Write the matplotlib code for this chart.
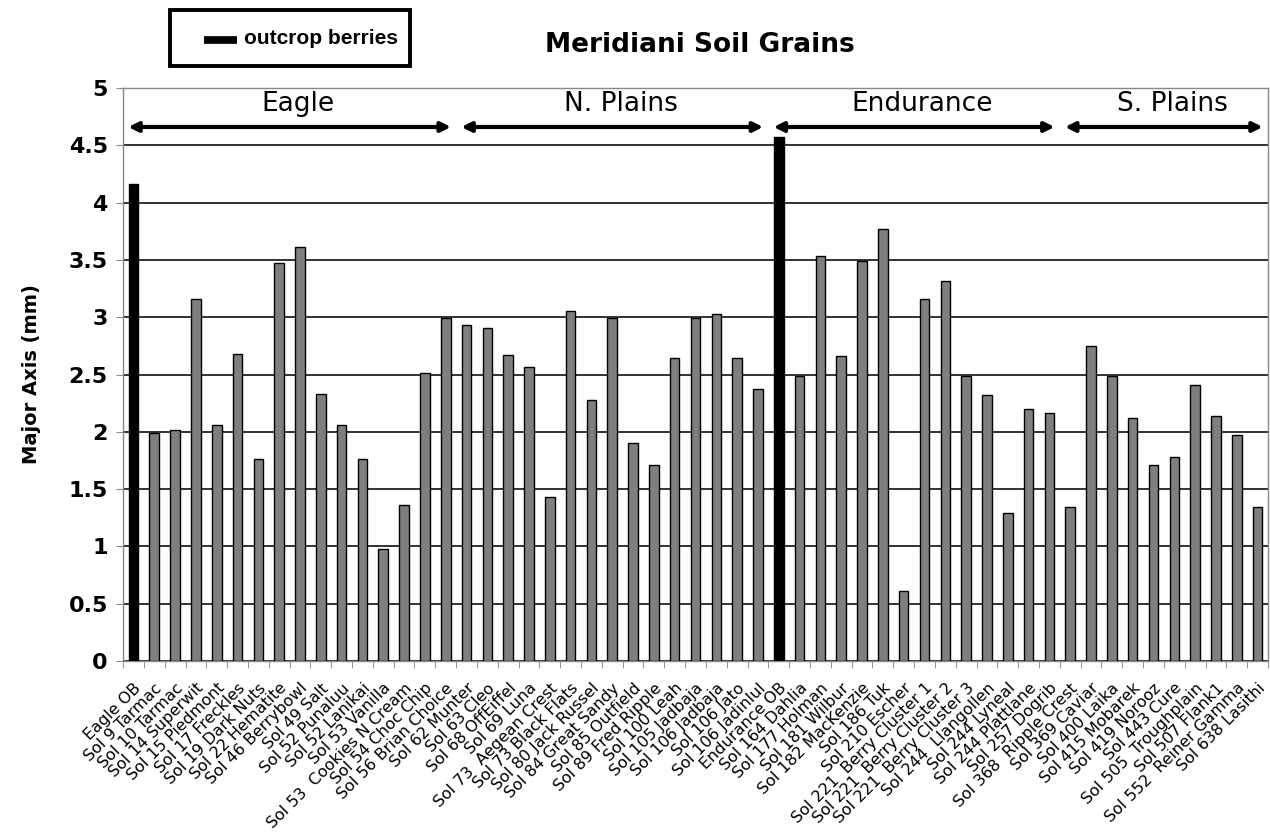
import matplotlib
matplotlib.use('Agg')
from matplotlib import pyplot as plt
from matplotlib.lines import Line2D
from matplotlib.patches import Rectangle
import numpy as np

# grain names, in the order they were sampled along the traverse
names = ['Eagle OB', 'Sol 9 Tarmac', 'Sol 10 Tarmac', 'Sol 14 Superwit', 'Sol 15 Piedmont',
         'Sol 17 Freckles', 'Sol 19 Dark Nuts', 'Sol 22 Hematite', 'Sol 46 Berrybowl', 'Sol 49 Salt',
         'Sol 52 Punaluu', 'Sol 52 Lanikai', 'Sol 53 Vanilla', 'Sol 53  Cookies N Cream', 'Sol 54 Choc Chip',
         'Sol 56 Brian Choice', 'Sol 62 Munter', 'Sol 63 Cleo', 'Sol 68 OffEiffel', 'Sol 69 Luna',
         'Sol 73  Aegean Crest', 'Sol 73 Black Flats', 'Sol 80 Jack Russel', 'Sol 84 Great Sandy',
         'Sol 85 Outfield', 'Sol 89 Fred Ripple', 'Sol 100 Leah', 'Sol 105 Jadbaja', 'Sol 106 Jadbaja',
         'Sol 106 Jato', 'Sol 106 Jadinlul', 'Endurance OB', 'Sol 164 Dahlia', 'Sol 177 Holman',
         'Sol 181 Wilbur', 'Sol 182 MacKenzie', 'Sol 186 Tuk', 'Sol 210 Escher',
         'Sol 221  Berry Cluster 1', 'Sol 221  Berry Cluster 2', 'Sol 221  Berry Cluster 3',
         'Sol 244  Llangollen', 'Sol 244 Lyneal', 'Sol 244 Plattlane', 'Sol 257 Dogrib',
         'Sol 368  Ripple Crest', 'Sol 369 Caviar', 'Sol 400 Laika', 'Sol 415 Mobarek', 'Sol 419 Norooz',
         'Sol 443 Cure', 'Sol 505  Troughplain', 'Sol 507 Flank1', 'Sol 552  Reiner Gamma', 'Sol 638 Lasithi']

# major axis (mm)
major_axis = [4.16, 1.99, 2.02, 3.16, 2.06, 2.68, 1.76, 3.47, 3.61, 2.33,
              2.06, 1.76, 0.98, 1.36, 2.51, 2.99, 2.93, 2.91, 2.67, 2.57,
              1.43, 3.05, 2.28, 2.99, 1.90, 1.71, 2.64, 2.99, 3.03, 2.64,
              2.37, 4.57, 2.49, 3.53, 2.66, 3.49, 3.77, 0.61, 3.16, 3.32,
              2.49, 2.32, 1.29, 2.20, 2.16, 1.34, 2.75, 2.49, 2.12, 1.71,
              1.78, 2.41, 2.14, 1.97, 1.34]

outcrop = ['Eagle OB', 'Endurance OB']

# regions: label, first grain, last grain
regions = ['Eagle', 'N. Plains', 'Endurance', 'S. Plains']
region_first = ['Eagle OB', 'Sol 62 Munter', 'Endurance OB', 'Sol 368  Ripple Crest']
region_last = ['Sol 56 Brian Choice', 'Sol 106 Jadinlul', 'Sol 257 Dogrib', 'Sol 638 Lasithi']

fig = plt.figure(figsize=(12.7, 8.36), dpi=100)
ax = fig.add_axes([0.0969, 0.2093, 0.9015, 0.6854])

x = np.arange(len(names))
clrs = ['black' if n in outcrop else '#7f7f7f' for n in names]
ax.bar(x, major_axis, width=0.46, color=clrs, edgecolor='black', linewidth=1.0, zorder=3)

ax.set_xlim(-0.5, len(names) - 0.5)
ax.set_ylim(0, 5)
ax.set_yticks(np.arange(0, 5.01, 0.5))
ax.set_yticklabels(['0', '0.5', '1', '1.5', '2', '2.5', '3', '3.5', '4', '4.5', '5'],
                   fontsize=16, fontweight='bold')
ax.yaxis.grid(True, color='#222222', linewidth=1.3, zorder=1)
ax.tick_params(axis='y', length=5, color='#888888', pad=6)

ax.set_xticks(x)
ax.set_xticklabels(names, rotation=45, ha='right', rotation_mode='anchor', fontsize=11.5)
ax.set_xticks(np.arange(-0.5, len(names), 1), minor=True)
ax.tick_params(axis='x', which='major', length=0, pad=14)
ax.tick_params(axis='x', which='minor', length=5, color='#888888')

for s in ['left', 'bottom', 'right', 'top']:
    ax.spines[s].set_color('#888888')
    ax.spines[s].set_linewidth(1.0)

ax.set_ylabel('Major Axis (mm)', fontsize=14, fontweight='bold', labelpad=20)

# region arrows along the top
for i in range(len(regions)):
    a = names.index(region_first[i]) - 0.5
    b = names.index(region_last[i]) + 0.5
    ax.annotate('', xy=(a + 0.25, 4.66), xytext=(b - 0.25, 4.66),
                arrowprops=dict(arrowstyle='<|-|>', color='black', lw=3,
                                mutation_scale=14, shrinkA=0, shrinkB=0),
                annotation_clip=False, zorder=4)
    ax.text((a + b) / 2 + 0.4, 4.86, regions[i], ha='center', va='center', fontsize=19)

fig.text(0.551, 0.946, 'Meridiani Soil Grains', ha='center', va='center',
         fontsize=19, fontweight='bold')

# key box, top left
fig.patches.append(Rectangle((0.1339, 0.921), 0.189, 0.067, transform=fig.transFigure,
                             facecolor='white', edgecolor='black', linewidth=2.8))
fig.add_artist(Line2D([0.161, 0.187], [0.952, 0.952], transform=fig.transFigure,
                      color='black', linewidth=5.5, solid_capstyle='butt'))
fig.text(0.192, 0.954, 'outcrop berries', ha='left', va='center', fontsize=15,
         fontweight='bold', family='Liberation Sans')

plt.savefig('out.png', dpi=100)
